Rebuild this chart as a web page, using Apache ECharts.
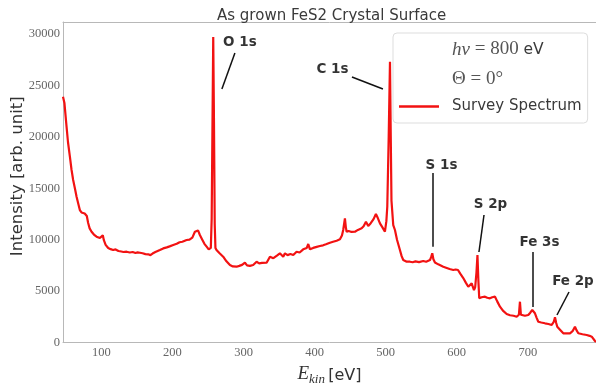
<!DOCTYPE html>
<html>
<head>
<meta charset="utf-8">
<script src="https://cdn.jsdelivr.net/npm/echarts@6/dist/echarts.min.js"></script>
<style>
  html, body { margin: 0; padding: 0; background: #ffffff; }
  #chart { width: 596px; height: 383px; }
</style>
</head>
<body>
<div id="chart"></div>
<script>
// Kinetic energy (eV) of each sample of the survey spectrum
const energy = [
  46, 48, 51, 53, 55.7, 58, 60.3, 63, 65.1, 67.5, 69.7, 72, 74.4, 76.5, 78.2, 79.5,
  81.4, 83.5, 86.2, 89.5, 93.2, 95.5, 97.9, 100.3, 102, 103.5, 106, 109.6, 113, 116.6,
  120, 124, 128, 131, 135.5, 140, 144, 148, 151, 154.2, 158, 162, 165.9, 169, 172, 176,
  182.3, 187, 192, 196, 201.1, 206, 210, 214, 219.9, 224, 228, 231.6, 234, 236, 238.6,
  242, 245, 248.1, 251, 252.7, 254, 255.2, 256.3, 257.4, 258.5, 259.5, 260.5, 262, 266,
  271.4, 276, 280.9, 285, 290.3, 294, 298, 302, 305, 309, 313.6, 318.4, 322, 326, 332.5,
  337.2, 342, 347, 351.2, 355.9, 358.3, 362, 366, 370, 374.7, 379, 384, 389, 391.1, 393.5,
  398, 403, 407.5, 412, 416, 421.6, 426, 431, 435.7, 438.5, 440.3, 442.7, 444, 445.1, 448,
  452, 456.8, 461, 466.2, 469, 472.3, 475.5, 479, 483, 486.3, 489, 492, 495.5, 499, 501,
  502.3, 504.3, 506.1, 507.2, 508.2, 510.7, 513.1, 516, 520.1, 522.5, 524.8, 529.6,
  534.2, 538, 542, 547, 552.9, 557, 562.4, 564, 565.6, 567.2, 569.4, 574, 581.1, 586, 590,
  595.2, 598.5, 601.8, 605, 609.2, 613, 616.3, 618.5, 621.1, 622.7, 624.3, 626, 627.8,
  629.2, 630.5, 631.7, 635, 639.8, 643, 646.8, 650, 653.9, 657, 660.9, 665, 670.3, 675,
  680, 684.4, 687.5, 689, 690.3, 691.4, 696, 700.7, 703.5, 706.3, 708.5, 710.1, 712.5,
  714.8, 719, 724.2, 729, 733.7, 736.5, 738.3, 740, 741.5, 746, 750, 755, 759.4, 763,
  766.4, 768.5, 771.1, 777, 782.9, 787, 790, 792.5, 794.6, 796
];

// Measured intensity (arb. unit) at each kinetic energy above
const intensity = [
  23900, 23300, 21000, 19500, 18070, 16800, 15800, 14900, 14180, 13500, 12880, 12650, 12590, 12550, 12720, 12300,
  11620, 11100, 10775, 10500, 10290, 10200, 10160, 10000, 10420, 9950, 9500, 9190, 9080, 8995,
  9050, 8900, 8850, 8800, 8830, 8750, 8800, 8700, 8760, 8730, 8680, 8600, 8577, 8500, 8650, 8800,
  8995, 9150, 9250, 9350, 9480, 9600, 9750, 9800, 9967, 10000, 10200, 10775, 10940, 10900, 10453,
  10000, 9600, 9316, 9050, 8995, 9200, 12000, 21000, 29700, 21000, 11500, 9200, 9000, 8700,
  8343, 7900, 7536, 7400, 7371, 7450, 7550, 7760, 7500, 7450, 7536, 7857, 7700, 7750, 7760,
  8343, 8200, 8450, 8674, 8343, 8674, 8500, 8600, 8508, 8830, 8750, 9063, 9200, 9578, 9063,
  9200, 9300, 9384, 9450, 9550, 9705, 9800, 9900, 10035, 10400, 10940, 12077, 11200, 10775, 10850,
  10750, 10775, 10950, 11105, 11300, 11747, 11328, 11600, 12000, 12495, 12100, 11591, 11200, 10775, 11800,
  13205, 20000, 27300, 20000, 13800, 11425, 10940, 10000, 8995, 8400, 8022, 7857,
  7857, 7800, 7890, 7820, 7925, 7850, 8022, 8300, 8674, 8100, 7780, 7600, 7371, 7250, 7150,
  7050, 7100, 7050, 6700, 6272, 5800, 5426, 5600, 5757, 5400, 5105, 5400, 6800,
  8509, 6000, 4298, 4400, 4454, 4350, 4298, 4400, 4454, 4000, 3481, 3100, 2771, 2650,
  2600, 2509, 2700, 3967, 2700, 2509, 2600, 2674, 2900, 3160, 3000, 2839, 2400,
  2023, 1950, 1867, 1800, 1702, 2000, 2450, 1900, 1536, 1200, 895, 880, 895, 1100,
  1536, 1200, 895, 800, 729, 650, 564, 450, 146, 60
];

// Axis tick values
const energyTicks = [100, 200, 300, 400, 500, 600, 700];
const intensityTicks = [0, 5000, 10000, 15000, 20000, 25000, 30000];

// Core-level peak annotations: label anchor and leader line ends, in [eV, intensity]
const peakNames = ['O 1s', 'C 1s', 'S 1s', 'S 2p', 'Fe 3s', 'Fe 2p'];
const peakLabelAt = [[294.9, 29220], [425.1, 26595], [578.6, 17260], [647.5, 13468], [716.5, 9773], [763.6, 5932]];
const leaderStart = [[287.9, 28150], [452.6, 25817], [566.2, 16483], [638.4, 12398], [706.9, 8800], [758.0, 4911]];
const leaderEnd = [[269.6, 24650], [496.2, 24650], [566.2, 9316], [631.3, 8800], [706.9, 3452], [741.1, 2674]];

const spectrum = energy.map((e, i) => [e, intensity[i]]);
const leaders = peakNames.map((n, i) => ({ coords: [leaderStart[i], leaderEnd[i]] }));
const labels = peakNames.map((n, i) => ({ name: n, value: peakLabelAt[i] }));

const X_MIN = 46, X_MAX = 796, Y_MAX = 31170;
const sans = 'DejaVu Sans';
const serif = 'Liberation Serif';
const frameColor = '#b8b8b8';
const red = '#f21212';

const chart = echarts.init(document.getElementById('chart'), null, { renderer: 'canvas' });
chart.setOption({
  animation: false,
  backgroundColor: '#ffffff',
  title: {
    text: 'As grown FeS2 Crystal Surface',
    left: 212,
    top: 4,
    textStyle: { fontFamily: sans, fontSize: 15, fontWeight: 'normal', color: '#3a3a3a' }
  },
  grid: { left: 63, right: 0, top: 22, bottom: 40.5, containLabel: false, outerBoundsMode: 'none' },
  legend: {
    left: 393,
    top: 33,
    orient: 'vertical',
    align: 'left',
    itemWidth: 40,
    itemHeight: 2.5,
    itemGap: 10.5,
    padding: [7, 6, 9, 6],
    backgroundColor: 'rgba(255,255,255,0.85)',
    borderColor: '#dddddd',
    borderWidth: 1,
    borderRadius: 4,
    selectedMode: false,
    data: [
      { name: 'hν = 800 eV', icon: 'none' },
      { name: 'Θ = 0°', icon: 'none' },
      { name: 'Survey Spectrum', icon: 'rect', itemStyle: { color: red } }
    ],
    formatter: function (name) {
      if (name === 'hν = 800 eV') return '{mi|hν}{m| = 800 }{s|eV}';
      if (name === 'Θ = 0°') return '{m0|Θ = 0°}';
      return '{s0|' + name + '}';
    },
    textStyle: {
      color: '#444',
      rich: {
        mi: { fontFamily: serif, fontStyle: 'italic', fontSize: 19, color: '#555', lineHeight: 18, padding: [0, 0, 0, 8] },
        m0: { fontFamily: serif, fontSize: 19, color: '#555', lineHeight: 18, padding: [0, 0, 0, 8] },
        m: { fontFamily: serif, fontSize: 19, color: '#555', lineHeight: 18 },
        s: { fontFamily: sans, fontSize: 15.5, color: '#3a3a3a', lineHeight: 18 },
        s0: { fontFamily: sans, fontSize: 15, color: '#3a3a3a', lineHeight: 18, padding: [0, 0, 0, 8] }
      }
    }
  },
  xAxis: [
    {
      type: 'value',
      min: X_MIN,
      max: X_MAX,
      position: 'bottom',
      splitLine: { show: false },
      axisLine: { show: true, onZero: false, lineStyle: { color: frameColor, width: 1 } },
      axisTick: { show: false },
      axisLabel: {
        customValues: energyTicks,
        formatter: v => String(v),
        fontFamily: serif, fontSize: 12.5, color: '#666', margin: 4
      },
      name: '{e|E}{k|kin} {u|[eV]}',
      nameLocation: 'middle',
      nameGap: 22,
      nameMoveOverlap: false,
      nameTextStyle: {
        rich: {
          e: { fontFamily: serif, fontStyle: 'italic', fontSize: 19, color: '#333', lineHeight: 22, verticalAlign: 'top' },
          k: { fontFamily: serif, fontStyle: 'italic', fontSize: 13, color: '#333', lineHeight: 22, verticalAlign: 'bottom' },
          u: { fontFamily: sans, fontSize: 16, color: '#333', lineHeight: 22 }
        }
      }
    },
    {
      type: 'value',
      min: X_MIN,
      max: X_MAX,
      position: 'top',
      splitLine: { show: false },
      axisLine: { show: true, onZero: false, lineStyle: { color: frameColor, width: 1 } },
      axisTick: { show: false },
      axisLabel: { show: false }
    }
  ],
  yAxis: {
    type: 'value',
    min: 0,
    max: Y_MAX,
    splitLine: { show: false },
    axisLine: { show: true, lineStyle: { color: frameColor, width: 1 } },
    axisTick: { show: false },
    axisLabel: {
      customValues: intensityTicks,
      formatter: v => String(v),
      fontFamily: serif, fontSize: 12.5, color: '#666', margin: 3
    },
    name: 'Intensity [arb. unit]',
    nameLocation: 'middle',
    nameGap: 37,
    nameMoveOverlap: false,
    nameTextStyle: { fontFamily: sans, fontSize: 16.5, color: '#333', padding: [0, 0, 0, 12] }
  },
  series: [
    {
      name: 'Survey Spectrum',
      type: 'line',
      data: spectrum,
      symbol: 'none',
      showSymbol: false,
      smooth: false,
      clip: true,
      lineStyle: { color: red, width: 2.2 },
      itemStyle: { color: red },
      z: 3
    },
    { name: 'hν = 800 eV', type: 'line', data: [], symbol: 'none' },
    { name: 'Θ = 0°', type: 'line', data: [], symbol: 'none' },
    {
      type: 'lines',
      coordinateSystem: 'cartesian2d',
      data: leaders,
      lineStyle: { color: '#111', width: 1.5, opacity: 1 },
      z: 4
    },
    {
      type: 'scatter',
      data: labels,
      symbolSize: 1,
      itemStyle: { color: 'rgba(0,0,0,0)' },
      label: {
        show: true,
        position: 'inside',
        formatter: '{b}',
        fontFamily: sans,
        fontWeight: 'bold',
        fontSize: 13.5,
        color: '#000',
        textBorderWidth: 0
      },
      z: 5
    }
  ]
});
</script>
</body>
</html>
